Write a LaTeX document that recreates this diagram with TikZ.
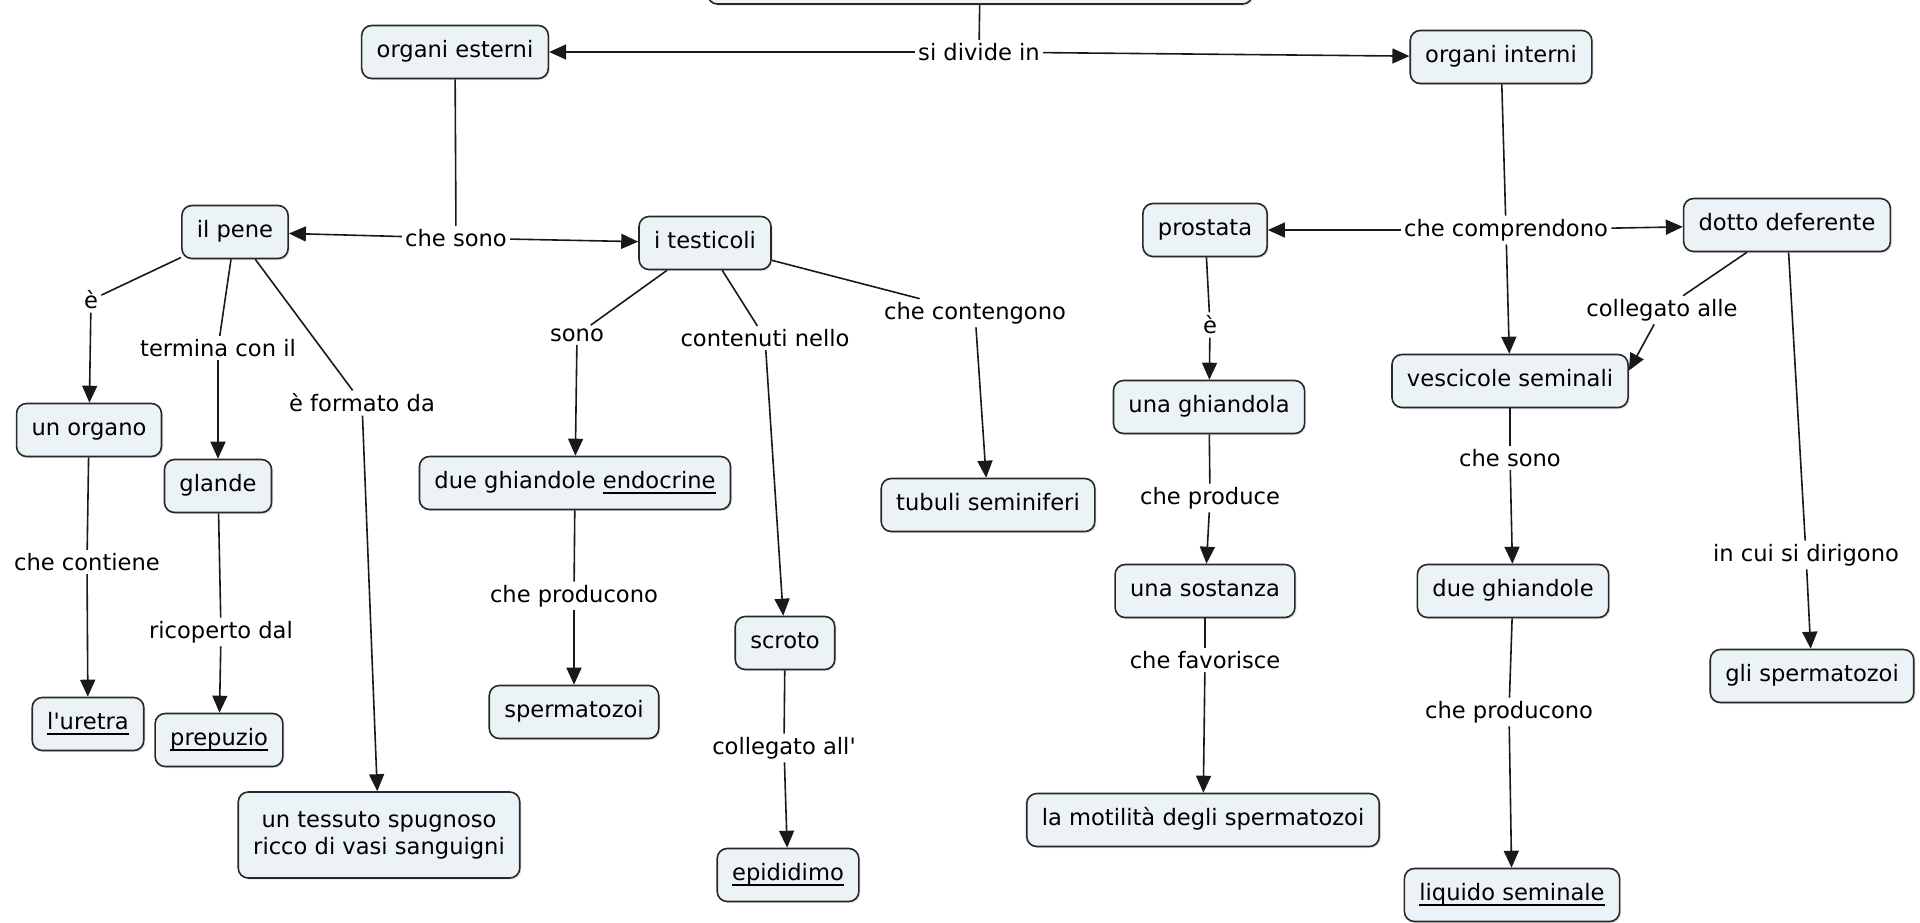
\documentclass[tikz,border=0pt]{standalone}
\usepackage{fontspec}
\setmainfont{DejaVu Sans}
\usetikzlibrary{arrows.meta,shadows}
\definecolor{boxfill}{RGB}{235,243,246}
\definecolor{boxline}{RGB}{40,40,40}
\newsavebox\ulbox
\newcommand\ulx[1]{\sbox\ulbox{#1}\rlap{\rule[-2.4pt]{\wd\ulbox}{0.6pt}}\usebox\ulbox}
\begin{document}
\begin{tikzpicture}[x=0.5pt,y=-0.5pt,
  font=\fontsize{11.3pt}{13.5pt}\selectfont,
  concept/.style={draw=boxline, line width=0.8pt, fill=boxfill, rounded corners=5pt,
    inner xsep=7.5pt, inner ysep=2pt, minimum height=26.5pt, align=center,
    text height=8.2pt, text depth=2.4pt,
    drop shadow={opacity=0.22, shadow xshift=0.8pt, shadow yshift=-0.8pt}},
  lab/.style={inner sep=1.5pt, fill=white},
  link/.style={line width=0.8pt, draw=black!90},
  arr/.style={link, -{Triangle[length=8.5pt,width=7.5pt]}},
]
\path[use as bounding box, clip] (0,0) rectangle (1920,922);

% concepts
\node[concept, minimum width=272.5pt, minimum height=24pt] (top) at (980,-20) {};
\node[concept] (oe) at (455,52) {organi esterni};
\node[concept] (oi) at (1501,57) {organi interni};
\node[concept] (pene) at (235,232) {il pene};
\node[concept] (test) at (705,243) {i testicoli};
\node[concept] (organo) at (89,430) {un organo};
\node[concept] (glande) at (218,486) {glande};
\node[concept, text height={}, text depth={}, minimum height=43pt] (tess) at (379,835) {un tessuto spugnoso\\ricco di vasi sanguigni};
\node[concept] (uretra) at (88,724) {\ulx{l\textquotesingle uretra}};
\node[concept] (prep) at (219,740) {\ulx{prepuzio}};
\node[concept] (dge) at (575,483) {due ghiandole \ulx{endocrine}};
\node[concept] (scroto) at (785,643) {scroto};
\node[concept] (tub) at (988,505) {tubuli seminiferi};
\node[concept] (sperm) at (574,712) {spermatozoi};
\node[concept] (epid) at (788,875) {\ulx{epididimo}};
\node[concept] (prost) at (1205,230) {prostata};
\node[concept] (dotto) at (1787,225) {dotto deferente};
\node[concept] (ghia) at (1209,407) {una ghiandola};
\node[concept] (sost) at (1205,591) {una sostanza};
\node[concept] (motil) at (1203,820) {la motilità degli spermatozoi};
\node[concept] (ves) at (1510,381) {vescicole seminali};
\node[concept] (dg) at (1513,591) {due ghiandole};
\node[concept] (liq) at (1512,895) {\ulx{liquido seminale}};
\node[concept] (glisp) at (1812,676) {gli spermatozoi};

% linking phrases
\node[lab] (si) at (979,52) {si divide in};
\node[lab] (cs1) at (456,238) {che sono};
\node[lab] (e1) at (91,300) {è};
\node[lab] (term) at (218,348) {termina con il};
\node[lab] (form) at (362,403) {è formato da};
\node[lab] (cont) at (87,562) {che contiene};
\node[lab] (ric) at (221,632) {ricoperto dal};
\node[lab] (sono) at (577,335) {sono};
\node[lab] (contn) at (765,338) {contenuti nello};
\node[lab] (cteng) at (975,313) {che contengono};
\node[lab] (cp1) at (574,596) {che producono};
\node[lab] (coll1) at (784,748) {collegato all\textquotesingle};
\node[lab] (comp) at (1506,230) {che comprendono};
\node[lab] (e2) at (1210,325) {è};
\node[lab] (cprod) at (1210,498) {che produce};
\node[lab] (fav) at (1205,660) {che favorisce};
\node[lab] (coll2) at (1662,310) {collegato alle};
\node[lab] (cs2) at (1510,458) {che sono};
\node[lab] (cp2) at (1509,712) {che producono};
\node[lab] (dir) at (1806,555) {in cui si dirigono};

% connections
\draw[link] (top) -- (si);
\draw[arr] (si) -- (oe);
\draw[arr] (si) -- (oi);
\draw[link] (oe) -- (cs1);
\draw[arr] (cs1) -- (pene);
\draw[arr] (cs1) -- (test);
\draw[link] (pene) -- (e1);
\draw[arr] (e1) -- (organo);
\draw[link] (pene) -- (term);
\draw[arr] (term) -- (glande);
\draw[link] (pene) -- (form);
\draw[arr] (form) -- (tess);
\draw[link] (organo) -- (cont);
\draw[arr] (cont) -- (uretra);
\draw[link] (glande) -- (ric);
\draw[arr] (ric) -- (prep);
\draw[link] (test) -- (sono);
\draw[arr] (sono) -- (dge);
\draw[link] (test) -- (contn);
\draw[arr] (contn) -- (scroto);
\draw[link] (test) -- (cteng);
\draw[arr] (cteng) -- (tub);
\draw[link] (dge) -- (cp1);
\draw[arr] (cp1) -- (sperm);
\draw[link] (scroto) -- (coll1);
\draw[arr] (coll1) -- (epid);
\draw[link] (oi) -- (comp);
\draw[arr] (comp) -- (prost);
\draw[arr] (comp) -- (dotto);
\draw[arr] (comp) -- (ves);
\draw[link] (prost) -- (e2);
\draw[arr] (e2) -- (ghia);
\draw[link] (ghia) -- (cprod);
\draw[arr] (cprod) -- (sost);
\draw[link] (sost) -- (fav);
\draw[arr] (fav) -- (motil);
\draw[link] (dotto) -- (coll2);
\draw[arr] (coll2) -- (ves.5);
\draw[link] (dotto) -- (dir);
\draw[arr] (dir) -- (glisp);
\draw[link] (ves) -- (cs2);
\draw[arr] (cs2) -- (dg);
\draw[link] (dg) -- (cp2);
\draw[arr] (cp2) -- (liq);
\end{tikzpicture}
\end{document}
